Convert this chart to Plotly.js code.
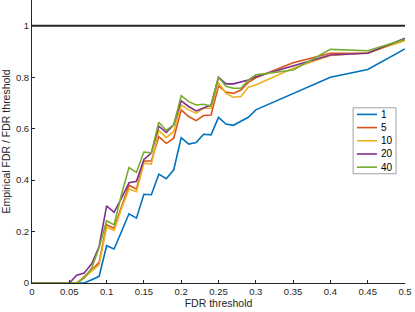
<!DOCTYPE html>
<html>
<head>
<meta charset="utf-8">
<script src="https://cdn.plot.ly/plotly-3.0.1.min.js"></script>
<style>html,body{margin:0;padding:0;background:#fff;}#chart{width:415px;height:312px;}</style>
</head>
<body>
<div id="chart"></div>
<script>
// FDR thresholds
const fdrThreshold = [0,0.01,0.02,0.03,0.04,0.05,0.06,0.07,0.08,0.09,0.10,0.11,0.12,0.13,0.14,0.15,0.16,0.17,0.18,0.19,0.20,0.21,0.22,0.23,0.24,0.25,0.26,0.27,0.28,0.29,0.30,0.35,0.40,0.45,0.50];
// Empirical FDR / FDR threshold per series
const series1  = [0,0,0,0,0,0,0,0,0.013,0.026,0.145,0.132,0.200,0.269,0.252,0.345,0.343,0.423,0.405,0.440,0.565,0.540,0.546,0.578,0.576,0.644,0.618,0.613,0.629,0.644,0.673,0.737,0.800,0.830,0.910];
const series5  = [0,0,0,0,0,0,0,0.025,0.050,0.080,0.226,0.213,0.300,0.380,0.365,0.474,0.474,0.569,0.543,0.563,0.673,0.647,0.631,0.651,0.653,0.766,0.742,0.737,0.750,0.780,0.798,0.856,0.893,0.893,0.947];
const series10 = [0,0,0,0,0,0,0,0.022,0.045,0.071,0.217,0.204,0.290,0.365,0.355,0.466,0.462,0.593,0.565,0.589,0.692,0.673,0.660,0.679,0.679,0.780,0.737,0.722,0.725,0.761,0.770,0.835,0.884,0.895,0.942];
const series20 = [0,0,0,0,0,0,0.030,0.039,0.075,0.142,0.300,0.275,0.330,0.390,0.395,0.480,0.505,0.610,0.585,0.615,0.708,0.686,0.669,0.682,0.692,0.800,0.774,0.774,0.783,0.789,0.802,0.844,0.886,0.893,0.951];
const series40 = [0,0,0,0,0,0,0,0.019,0.058,0.138,0.242,0.226,0.345,0.449,0.430,0.509,0.506,0.625,0.593,0.615,0.728,0.705,0.692,0.695,0.688,0.800,0.765,0.757,0.757,0.789,0.809,0.828,0.908,0.903,0.947];
const seriesNames = ['1','5','10','20','40'];
const seriesColors = ['#0072BD','#D95319','#EDB120','#7E2F8E','#77AC30'];
const refLineX = [0, 0.5];
const refLineY = [1, 1];
const xTickVals = [0,0.05,0.1,0.15,0.2,0.25,0.3,0.35,0.4,0.45,0.5];
const xTickText = ['0','0.05','0.1','0.15','0.2','0.25','0.3','0.35','0.4','0.45','0.5'];
const yTickVals = [0,0.2,0.4,0.6,0.8,1];
const yTickText = ['0','0.2','0.4','0.6','0.8','1'];

const allSeries = [series1, series5, series10, series20, series40];
const traces = allSeries.map((ys, i) => ({
  x: fdrThreshold, y: ys, type: 'scatter', mode: 'lines', name: seriesNames[i],
  line: {color: seriesColors[i], width: 1.6}, showlegend: false, hoverinfo: 'skip'
}));
traces.push({x: refLineX, y: refLineY, type: 'scatter', mode: 'lines',
  line: {color: '#262626', width: 2}, showlegend: false, hoverinfo: 'skip'});

// custom compact legend (MATLAB style)
const axColor = '#262626';
const font = 'Liberation Sans, Arial, Helvetica, sans-serif';
const legX0 = 0.861, legX1 = 0.976, legTop = 0.619, legBottom = 0.386;
const itemStep = (legTop - legBottom) / seriesNames.length;
const shapes = [{type: 'rect', xref: 'paper', yref: 'paper', x0: legX0, x1: legX1, y0: legBottom, y1: legTop,
  line: {color: '#a0a0a0', width: 1}, fillcolor: '#ffffff', layer: 'above'}];
const annotations = [];
seriesNames.forEach((n, i) => {
  const yy = legTop - itemStep * (i + 0.5);
  shapes.push({type: 'line', xref: 'paper', yref: 'paper', x0: 0.871, x1: 0.925, y0: yy, y1: yy,
    line: {color: seriesColors[i], width: 1.6}, layer: 'above'});
  annotations.push({xref: 'paper', yref: 'paper', x: 0.930, y: yy, xanchor: 'left', yanchor: 'middle',
    text: n, showarrow: false, font: {family: font, size: 10, color: '#000'}});
});

const layout = {
  width: 415, height: 312,
  margin: {l: 32, r: 10, t: 0, b: 29},
  paper_bgcolor: '#fff', plot_bgcolor: '#fff',
  font: {family: font, size: 9.5, color: axColor},
  xaxis: {range: [0, 0.5], tickvals: xTickVals, ticktext: xTickText,
    showgrid: false, zeroline: false, showline: true, linecolor: axColor, linewidth: 1,
    ticks: 'inside', ticklen: 3, tickcolor: axColor, mirror: false,
    tickfont: {family: font, size: 9.5, color: axColor},
    title: {text: 'FDR threshold', font: {family: font, size: 10.5, color: axColor}, standoff: 2}},
  yaxis: {range: [0, 1.1], tickvals: yTickVals, ticktext: yTickText,
    showgrid: false, zeroline: false, showline: true, linecolor: axColor, linewidth: 1,
    ticks: 'inside', ticklen: 3, tickcolor: axColor,
    tickfont: {family: font, size: 9.5, color: axColor},
    title: {text: 'Empirical FDR / FDR threshold', font: {family: font, size: 10.5, color: axColor}, standoff: 4}},
  shapes: shapes, annotations: annotations, showlegend: false
};
Plotly.newPlot('chart', traces, layout, {displayModeBar: false, staticPlot: true});
</script>
</body>
</html>
